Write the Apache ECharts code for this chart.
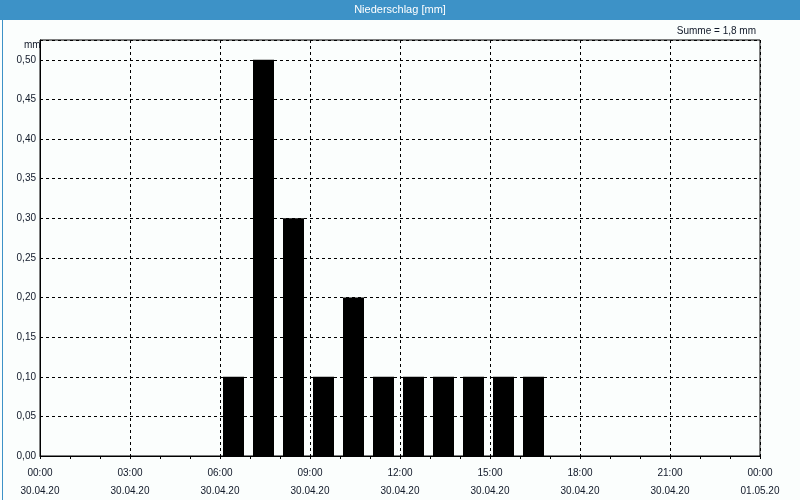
<!DOCTYPE html>
<html><head><meta charset="utf-8">
<script src="https://cdn.jsdelivr.net/npm/echarts@6/dist/echarts.min.js"></script>
<style>html,body{margin:0;padding:0;background:#fbfefd}#c{width:800px;height:500px}</style>
</head><body><div id="c"></div>
<script>
const titleText = 'Niederschlag [mm]';
const sumText = 'Summe = 1,8 mm';
const unitText = 'mm';
const hours = [6, 7, 8, 9, 10, 11, 12, 13, 14, 15, 16];
const values = [0.1, 0.5, 0.3, 0.1, 0.2, 0.1, 0.1, 0.1, 0.1, 0.1, 0.1];
const xTickLabels = {0:'00:00\n30.04.20',3:'03:00\n30.04.20',6:'06:00\n30.04.20',9:'09:00\n30.04.20',12:'12:00\n30.04.20',15:'15:00\n30.04.20',18:'18:00\n30.04.20',21:'21:00\n30.04.20',24:'00:00\n01.05.20'};

const font = 'Tahoma, "Liberation Sans", sans-serif';
const txt = '#101828';
const chart = echarts.init(document.getElementById('c'), null, {renderer:'canvas'});
chart.setOption({
  backgroundColor: '#fbfefd',
  animation: false,
  textStyle: {fontFamily: font},
  grid: {left: 40, top: 40, width: 720, height: 420, show: true, borderColor: '#000', borderWidth: 1, backgroundColor: 'transparent'},
  xAxis: {
    type: 'value', min: 0, max: 24, interval: 3,
    axisLine: {show: true, lineStyle: {color: '#000', width: 1}},
    axisTick: {show: true, length: 3, lineStyle: {color: '#000'}},
    minorTick: {show: true, splitNumber: 3, length: 3, lineStyle: {color: '#000'}},
    splitLine: {show: true, lineStyle: {color: '#000', type: [3, 3], width: 1}},
    axisLabel: {color: txt, fontSize: 10, fontFamily: font, lineHeight: 18, margin: 8,
      formatter: v => xTickLabels[v] || ''}
  },
  yAxis: {
    type: 'value', min: 0, max: 0.525, interval: 0.05,
    axisLine: {show: true, lineStyle: {color: '#000', width: 1}},
    axisTick: {show: false},
    splitLine: {show: true, lineStyle: {color: '#000', type: [3, 3], width: 1}},
    axisLabel: {color: txt, fontSize: 10, fontFamily: font, margin: 4,
      formatter: v => v > 0.51 ? '' : v.toFixed(2).replace('.', ',')}
  },
  series: [{
    type: 'bar',
    barWidth: 21,
    itemStyle: {color: '#000'},
    data: hours.map((h, i) => [h + 0.45, values[i]])
  }],
  graphic: [
    {type: 'rect', left: 0, top: 0, shape: {width: 800, height: 20}, style: {fill: '#3d92c7'}, z: 10},
    {type: 'rect', left: 0, top: 0, shape: {x: 0.5, y: 0.5, width: 799, height: 499}, style: {fill: 'none', stroke: '#3d92c7', lineWidth: 1}, z: 10},
    {type: 'text', left: 'center', top: 4, style: {text: titleText, fill: '#fff', font: '11px ' + font}, z: 11},
    {type: 'text', right: 44, top: 26, style: {text: sumText, fill: txt, font: '10px ' + font}, z: 11},
    {type: 'text', left: 24, top: 40, style: {text: unitText, fill: txt, font: '10px ' + font}, z: 11}
  ]
});
</script></body></html>
